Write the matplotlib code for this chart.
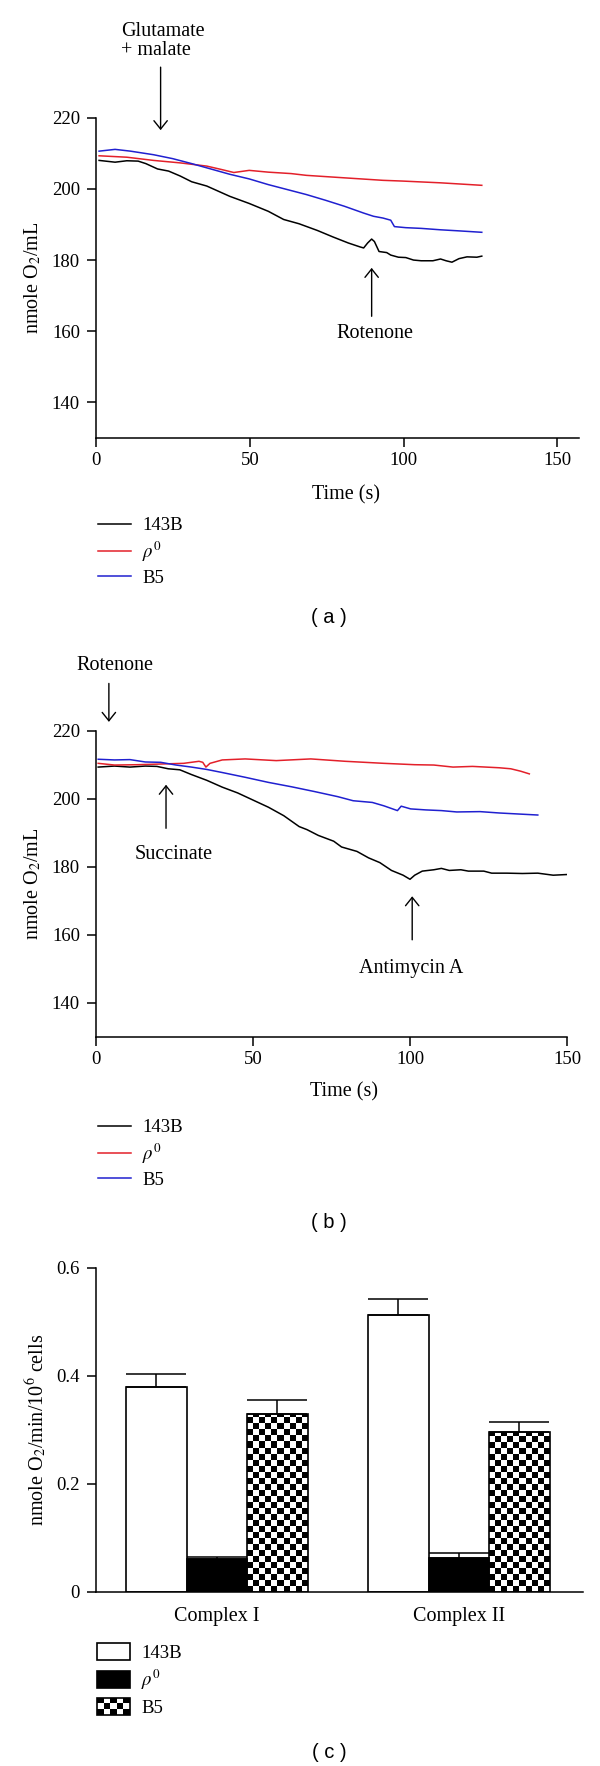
import numpy as np
import matplotlib
matplotlib.use("Agg")
import matplotlib.pyplot as plt
from matplotlib.patches import Rectangle
from matplotlib.lines import Line2D
from matplotlib.legend_handler import HandlerBase

plt.rcParams['font.family'] = ['Liberation Serif', 'DejaVu Serif']
plt.rcParams['mathtext.fontset'] = 'stix'
plt.rcParams['font.size'] = 13

# ---------------- data: panel (a) ----------------
a_t_143b = [1, 6.2, 10, 13.7, 16.2, 20, 23.6, 27.4, 31.1, 36, 43.5, 49.8, 56, 61, 66, 72, 77, 82,
            85.8, 87, 88.3, 89.6, 90.5, 92, 94.5, 95.8, 98.3, 100.7, 103.2, 105.7, 109.5, 112,
            113.8, 115.7, 118, 120.6, 123.8, 125.4]
a_y_143b = [208.0, 207.5, 207.9, 207.8, 207.1, 205.6, 205.0, 203.6, 202.0, 200.8, 197.9, 195.9,
            193.7, 191.4, 190.2, 188.3, 186.5, 184.8, 183.7, 183.4, 184.8, 185.9, 185.2, 182.4,
            182.1, 181.4, 180.8, 180.7, 180.0, 179.8, 179.8, 180.3, 179.8, 179.4, 180.4, 180.9,
            180.8, 181.1]
a_t_rho0 = [1, 10, 18.7, 27.4, 36, 41, 44.8, 49.8, 56, 63.4, 68.4, 80.8, 93.3, 99.5, 112, 125.4]
a_y_rho0 = [209.3, 208.9, 208.0, 207.3, 206.4, 205.4, 204.6, 205.2, 204.7, 204.3, 203.8, 203.1,
            202.4, 202.2, 201.7, 201.0]
a_t_b5 = [1, 6.2, 11.2, 18.7, 24.9, 31.1, 37.3, 43.5, 49.8, 56, 62.2, 68.4, 74.6, 80.8, 87, 90.2,
          93.3, 95.8, 97, 100.7, 105.7, 112, 118, 125.4]
a_y_b5 = [210.6, 211.1, 210.6, 209.6, 208.5, 207.1, 205.6, 204.1, 202.8, 201.2, 199.8, 198.4,
          196.8, 195.1, 193.2, 192.3, 191.8, 191.2, 189.4, 189.1, 188.9, 188.5, 188.2, 187.8]

# ---------------- data: panel (b) ----------------
b_t_143b = [0.7, 5.9, 10.8, 15.7, 19.4, 23, 26.7, 30.4, 35.3, 40.2, 45.1, 50, 54.9, 59.8, 64.7,
            67.2, 70.8, 75.7, 78.2, 83.1, 86.8, 90.4, 94.1, 97.8, 100, 101.5, 103.9, 107.6, 110,
            112.5, 116.2, 118.6, 123.5, 126, 130.9, 135.8, 140.7, 145.6, 150]
b_y_143b = [209.3, 209.6, 209.3, 209.6, 209.5, 208.8, 208.5, 207.1, 205.4, 203.4, 201.7, 199.6,
            197.5, 195.0, 191.8, 190.9, 189.2, 187.5, 185.8, 184.5, 182.6, 181.2, 178.9, 177.5,
            176.3, 177.5, 178.7, 179.1, 179.5, 178.9, 179.1, 178.7, 178.7, 178.1, 178.1, 178.0,
            178.1, 177.5, 177.7]
b_t_rho0 = [0.7, 5.9, 13.2, 20.6, 27.9, 32.8, 34, 35, 36.3, 40.2, 47.5, 57.4, 68.4, 79.4, 91.7,
            101.5, 107.6, 113.7, 119.9, 128.4, 132.1, 135.2, 138]
b_y_rho0 = [210.4, 209.9, 210.0, 210.2, 210.4, 211.0, 210.7, 209.3, 210.4, 211.4, 211.7, 211.2,
            211.7, 211.0, 210.4, 210.0, 209.9, 209.3, 209.5, 209.1, 208.8, 208.1, 207.3]
b_t_b5 = [0.7, 5.9, 10.8, 15.7, 20.6, 25.5, 30.4, 35.3, 40.2, 47.5, 54.9, 62.3, 69.6, 77, 81.9,
          88, 91.7, 96, 97.2, 100.2, 105.1, 110, 114.9, 122.3, 128.4, 134.5, 140.7]
b_y_b5 = [211.6, 211.4, 211.5, 210.8, 210.7, 209.9, 209.3, 208.6, 207.7, 206.3, 204.8, 203.5,
          202.1, 200.6, 199.4, 198.9, 197.9, 196.5, 197.8, 197.0, 196.7, 196.5, 196.1, 196.2,
          195.8, 195.5, 195.2]

# ---------------- data: panel (c) ----------------
c_groups = ['Complex I', 'Complex II']
c_143b = [0.379, 0.513]
c_143b_err = [0.024, 0.029]
c_rho0 = [0.0605, 0.0635]
c_rho0_err = [0.0045, 0.008]
c_b5 = [0.330, 0.296]
c_b5_err = [0.025, 0.018]

series_labels = ['143B', r'$\rho^{0}$', 'B5']
line_colors = ['#000000', '#e3202a', '#2020d0']

TXT = 14.5   # annotation / label size
TCK = 13.5   # tick label size
LEG = 13.5   # legend size
SANS = ['Liberation Sans', 'DejaVu Sans']

W, H = 600, 1766
fig = plt.figure(figsize=(W / 100, H / 100), dpi=100)


def add_axes_px(left, top, right, bottom):
    return fig.add_axes([left / W, 1 - bottom / H, (right - left) / W, (bottom - top) / H])


def style_axes(ax):
    for s in ['top', 'right']:
        ax.spines[s].set_visible(False)
    for s in ['left', 'bottom']:
        ax.spines[s].set_linewidth(1.1)
    ax.tick_params(axis='both', direction='out', length=6.5, width=1.1, labelsize=TCK)
    ax.tick_params(axis='y', pad=5)
    ax.tick_params(axis='x', pad=3.5)


arrow_kw = dict(arrowstyle='->,head_length=0.5,head_width=0.4', lw=1.0, color='black',
                shrinkA=0, shrinkB=0, mutation_scale=12)


def arrow(ax, x, y_tail, y_head):
    ax.annotate('', xy=(x, y_head), xytext=(x, y_tail), arrowprops=arrow_kw,
                annotation_clip=False)


def line_panel(ax, data, xmax, label_x):
    for (t, y), c, lab in zip(data, line_colors, series_labels):
        ax.plot(t, y, color=c, lw=1.1, label=lab)
    ax.set_xlim(0, xmax)
    ax.set_ylim(130, 220)
    ax.set_xticks([0, 50, 100, 150])
    ax.set_yticks([140, 160, 180, 200, 220])
    style_axes(ax)
    ax.set_ylabel(r'nmole O$_2$/mL', fontsize=TXT, va='center')
    ax.yaxis.set_label_coords(label_x, 0.5)


def line_legend(top_px):
    h = [Line2D([], [], color=c, lw=1.1) for c in line_colors]
    fig.legend(h, series_labels, loc='upper left', bbox_to_anchor=(98 / W, 1 - top_px / H),
               frameon=False, fontsize=LEG, handlelength=1.75, handletextpad=0.6,
               labelspacing=0.3, borderpad=0, borderaxespad=0)


# ---------------- panel (a) ----------------
ax1 = add_axes_px(96, 117.7, 579, 438)
line_panel(ax1, [(a_t_143b, a_y_143b), (a_t_rho0, a_y_rho0), (a_t_b5, a_y_b5)], 157, -0.130)
ax1.text(8.1, 241.5, 'Glutamate\n+ malate', ha='left', va='center', linespacing=1.0,
         fontsize=TXT, clip_on=False)
arrow(ax1, 21, 234.2, 216.5)
arrow(ax1, 89.6, 164.2, 177.8)
ax1.text(90.6, 159.5, 'Rotenone', ha='center', va='center', fontsize=TXT)
fig.text(346 / W, 1 - 495 / H, 'Time (s)', ha='center', va='center', fontsize=TXT)
line_legend(517)
fig.text(329 / W, 1 - 617 / H, '( a )', ha='center', va='center', fontsize=TXT, family=SANS)

# ---------------- panel (b) ----------------
ax2 = add_axes_px(96, 730.7, 567, 1036.7)
line_panel(ax2, [(b_t_143b, b_y_143b), (b_t_rho0, b_y_rho0), (b_t_b5, b_y_b5)], 150, -0.134)
ax2.text(6.05, 239.3, 'Rotenone', ha='center', va='center', fontsize=TXT, clip_on=False)
arrow(ax2, 4.1, 233.9, 222.6)
arrow(ax2, 22.3, 191.3, 204.1)
ax2.text(24.8, 183.5, 'Succinate', ha='center', va='center', fontsize=TXT)
arrow(ax2, 100.7, 158.5, 171.3)
ax2.text(100.5, 150.2, 'Antimycin A', ha='center', va='center', fontsize=TXT)
fig.text(344 / W, 1 - 1092 / H, 'Time (s)', ha='center', va='center', fontsize=TXT)
line_legend(1119)
fig.text(329 / W, 1 - 1222 / H, '( b )', ha='center', va='center', fontsize=TXT, family=SANS)

# ---------------- panel (c) ----------------
ax3 = add_axes_px(96, 1268, 583, 1592)
n = len(c_groups)
base = np.arange(n) * 4 + 1
x143 = base
xrho = base + 1
xb5 = base + 2
bw = 1.0
ax3.bar(x143, c_143b, width=bw, facecolor='white', edgecolor='black', lw=1.2, zorder=2)
ax3.bar(xrho, c_rho0, width=bw, facecolor='black', edgecolor='black', lw=1.2, zorder=2)
b5bars = ax3.bar(xb5, c_b5, width=bw, facecolor='none', edgecolor='black', lw=1.2, zorder=2)
cell_w, cell_h = 0.1, 0.0111
for rect, xc, v in zip(b5bars.patches, xb5, c_b5):
    nx = int(round(bw / cell_w))
    ny = int(np.ceil(v / cell_h))
    board = (np.add.outer(np.arange(ny), np.arange(nx)) % 2).astype(float)
    im = ax3.imshow(board, cmap='gray', vmin=0, vmax=1, origin='lower', aspect='auto',
                    interpolation='nearest',
                    extent=(xc - bw / 2, xc + bw / 2, 0, ny * cell_h), zorder=1.5)
    im.set_clip_path(rect)
for xs, vs, es in [(x143, c_143b, c_143b_err), (xrho, c_rho0, c_rho0_err), (xb5, c_b5, c_b5_err)]:
    ax3.errorbar(xs, vs, yerr=[np.zeros(len(vs)), es], fmt='none', ecolor='black',
                 elinewidth=1.1, capsize=21.6, capthick=1.1, zorder=3)
ax3.set_xlim(0, 8.05)
ax3.set_ylim(0, 0.6)
ax3.set_yticks([0, 0.2, 0.4, 0.6])
ax3.set_yticklabels(['0', '0.2', '0.4', '0.6'])
ax3.set_xticks(base + 1)
ax3.set_xticklabels(c_groups)
style_axes(ax3)
ax3.tick_params(axis='x', length=0, labelsize=TXT, pad=11)
ax3.set_ylabel(r'nmole O$_2$/min/10$^6$ cells', fontsize=TXT, va='center')
ax3.yaxis.set_label_coords(-0.123, 0.5)


class HandlerChecker(HandlerBase):
    def __init__(self, nx=5, ny=3, **kw):
        super().__init__(**kw)
        self.nx, self.ny = nx, ny

    def create_artists(self, legend, orig_handle, xdescent, ydescent, width, height,
                       fontsize, trans):
        x0, y0 = -xdescent, -ydescent
        cw, ch = width / self.nx, height / self.ny
        arts = [Rectangle((x0, y0), width, height, facecolor='white', edgecolor='none',
                          transform=trans)]
        for i in range(self.nx):
            for j in range(self.ny):
                if (i + j) % 2 == 0:
                    arts.append(Rectangle((x0 + i * cw, y0 + j * ch), cw, ch,
                                          facecolor='black', edgecolor='none', transform=trans))
        arts.append(Rectangle((x0, y0), width, height, facecolor='none', edgecolor='black',
                              lw=1.2, transform=trans))
        return arts


hc = [Rectangle((0, 0), 1, 1, facecolor='white', edgecolor='black', lw=1.2),
      Rectangle((0, 0), 1, 1, facecolor='black', edgecolor='black', lw=1.2),
      Rectangle((0, 0), 1, 1, facecolor='white', edgecolor='black', lw=1.2)]
fig.legend(hc, series_labels, loc='upper left', bbox_to_anchor=(97 / W, 1 - 1643 / H),
           frameon=False, fontsize=LEG, handlelength=1.75, handleheight=1.05,
           handletextpad=0.6, labelspacing=0.3, borderpad=0, borderaxespad=0,
           handler_map={hc[2]: HandlerChecker()})
fig.text(329 / W, 1 - 1753 / H, '( c )', ha='center', va='center', fontsize=TXT, family=SANS)

fig.savefig('out.png', dpi=100)
